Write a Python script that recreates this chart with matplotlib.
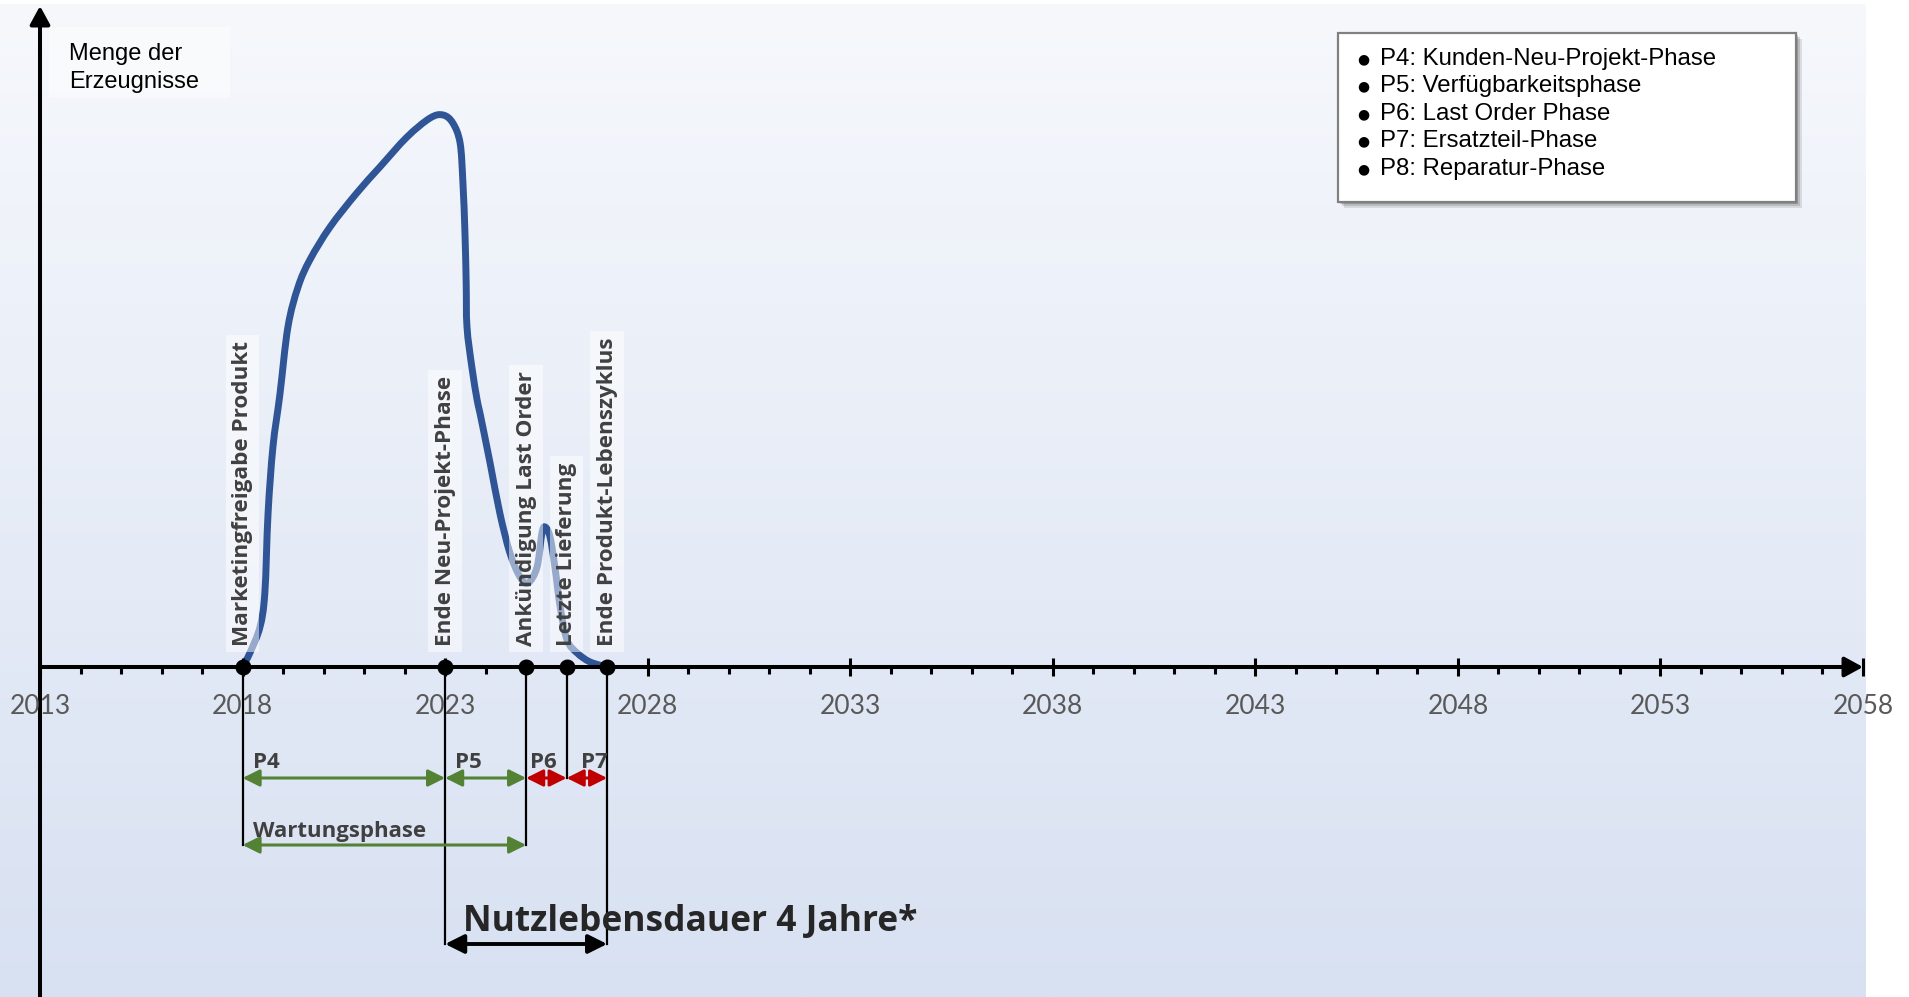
import numpy as np
import matplotlib
matplotlib.use("Agg")
import matplotlib.pyplot as plt
from matplotlib.patches import Rectangle, FancyArrowPatch, PathPatch
from matplotlib.path import Path

# ---------------- data ----------------
curve_years = [2018.0, 2018.18, 2018.43, 2018.55, 2018.63, 2018.75, 2018.92, 2019.12,
               2019.37, 2019.66, 2020.16, 2020.82, 2021.39, 2022.06, 2022.63, 2022.95,
               2023.19, 2023.37, 2023.44, 2023.49, 2023.52, 2023.54, 2023.66, 2023.79,
               2023.86, 2024.11, 2024.35, 2024.60, 2024.85, 2025.05, 2025.27, 2025.39,
               2025.47, 2025.59, 2025.71, 2025.84, 2026.01, 2026.26, 2026.58, 2027.0]
curve_values = [0, 14, 40, 74, 154, 220, 272, 340,
                380, 407, 440, 474, 500, 530, 549, 552,
                544, 524, 484, 434, 384, 340, 300, 267,
                254, 204, 154, 114, 90, 84, 100, 134,
                140, 130, 100, 60, 27, 14, 5, 0]

event_years = [2018, 2023, 2025, 2026, 2027]
event_labels = ["Marketingfreigabe Produkt", "Ende Neu-Projekt-Phase",
                "Ankündigung Last Order", "Letzte Lieferung", "Ende Produkt-Lebenszyklus"]

tick_years = [2013, 2018, 2023, 2028, 2033, 2038, 2043, 2048, 2053, 2058]

phase_names = ["P4", "P5", "P6", "P7"]
phase_start = [2018, 2023, 2025, 2026]
phase_end = [2023, 2025, 2026, 2027]
phase_colors = ["#548235", "#548235", "#c00000", "#c00000"]

wartung_label = "Wartungsphase"
wartung_span = [2018, 2025]
nutz_label = "Nutzlebensdauer 4 Jahre*"
nutz_span = [2023, 2027]

legend_items = ["P4: Kunden-Neu-Projekt-Phase", "P5: Verfügbarkeitsphase",
                "P6: Last Order Phase", "P7: Ersatzteil-Phase", "P8: Reparatur-Phase"]
y_axis_label = "Menge der\nErzeugnisse"

# ---------------- layout helpers (pixel -> data) ----------------
W, H = 1909, 997
PX_PER_YEAR = (1863 - 40) / 45.0


def X(px):
    return 2013 + (px - 40) / PX_PER_YEAR


def Y(py):
    return 667 - py


def DX(px):
    return px / PX_PER_YEAR


fig = plt.figure(figsize=(W / 100, H / 100), dpi=100)
ax = fig.add_axes([0, 0, 1, 1])
ax.set_xlim(X(0), X(W))
ax.set_ylim(Y(H), Y(0))
ax.axis("off")

CAL = "Open Sans"
TICKF = "Lato"
ARIAL = "Liberation Sans"
DARK = "#404040"

# background gradient
top = np.array([0xf6, 0xf8, 0xfc]) / 255
bot = np.array([0xd8, 0xe1, 0xf2]) / 255
t = np.linspace(0, 1, 256)[:, None]
grad = (top[None, :] * (1 - t) + bot[None, :] * t)[:, None, :]
ax.imshow(grad, extent=[X(0), X(1865), Y(H), Y(5)], aspect="auto", zorder=0,
          interpolation="bilinear")

# y-axis label box
ax.add_patch(Rectangle((X(49), Y(98)), DX(181), 71, facecolor="white", alpha=0.45,
                       edgecolor="none", zorder=1))
ax.text(X(69), Y(68), y_axis_label, fontsize=17, family=ARIAL, color="black",
        va="center", ha="left", linespacing=1.38, zorder=2)

# axes lines
ax.add_patch(FancyArrowPatch((2013, Y(H)), (2013, Y(6)), arrowstyle="-|>,head_length=0.55,head_width=0.3",
                             mutation_scale=20, color="black", lw=2.9, shrinkA=0, shrinkB=0, zorder=4))
ax.add_patch(FancyArrowPatch((2013, 0), (2058, 0), arrowstyle="-|>,head_length=0.55,head_width=0.3",
                             mutation_scale=20, color="black", lw=2.9, shrinkA=0, shrinkB=0, zorder=4))
for yr in range(2014, 2058):
    if (yr - 2013) % 5 != 0:
        ax.plot([yr, yr], [0, -7], color="black", lw=2.2, zorder=4, solid_capstyle="butt")
for yr in tick_years:
    ax.plot([yr, yr], [-9, 9], color="black", lw=2.2, zorder=4, solid_capstyle="butt")
    ax.text(yr, Y(706), str(yr), fontsize=19, family=TICKF, color="#595959",
            ha="center", va="center", zorder=4)

# curve: smooth path (Catmull-Rom -> cubic Bezier) through the read points
P = np.column_stack([curve_years, curve_values]).astype(float)
Pe = np.vstack([P[0], P, P[-1]])
verts = [tuple(P[0])]
codes = [Path.MOVETO]
for i in range(1, len(Pe) - 2):
    p0, p1, p2, p3 = Pe[i - 1], Pe[i], Pe[i + 1], Pe[i + 2]
    c1 = p1 + (p2 - p0) / 6.0
    c2 = p2 - (p3 - p1) / 6.0
    verts += [tuple(c1), tuple(c2), tuple(p2)]
    codes += [Path.CURVE4] * 3
ax.add_patch(PathPatch(Path(verts, codes), facecolor="none", edgecolor="#2f5597", lw=5,
                       capstyle="round", joinstyle="round", zorder=3))

# event labels (semi transparent boxes on top of the curve)
for yr, lab in zip(event_years, event_labels):
    ax.text(yr, Y(646), lab, rotation=90, fontsize=16.2, family=CAL, weight="bold",
            color=DARK, ha="center", va="bottom", zorder=5,
            bbox=dict(boxstyle="square,pad=0.28", facecolor="white", edgecolor="none", alpha=0.5))

# arrow levels
lvl_p = Y(778)
lvl_w = Y(845)
lvl_n = Y(944)

# drop lines from events
drop = {yr: 0 for yr in event_years}
spans = [(s, e, lvl_p) for s, e in zip(phase_start, phase_end)]
spans += [(wartung_span[0], wartung_span[1], lvl_w), (nutz_span[0], nutz_span[1], lvl_n)]
for s, e, lv in spans:
    for yr in (s, e):
        drop[yr] = min(drop[yr], lv)
for yr in event_years:
    ax.plot([yr, yr], [0, drop[yr]], color="black", lw=1.6, zorder=4)

# event dots
ax.plot(event_years, [0] * len(event_years), "o", ms=10.5, color="black", zorder=6)


def darrow(x0, x1, y, color, lw=2.2, ms=17):
    ax.add_patch(FancyArrowPatch((x0, y), (x1, y),
                                 arrowstyle="<|-|>,head_length=0.6,head_width=0.3",
                                 mutation_scale=ms, color=color, lw=lw,
                                 shrinkA=0, shrinkB=0, zorder=4))


label_offsets = [10, 10, 4, 14]
for name, s, e, c, off in zip(phase_names, phase_start, phase_end, phase_colors, label_offsets):
    darrow(s, e, lvl_p, c)
    ax.text(s + DX(off), Y(762), name, fontsize=16, family=CAL, weight="bold", color=DARK,
            ha="left", va="center", zorder=5)

darrow(wartung_span[0], wartung_span[1], lvl_w, "#548235")
ax.text(wartung_span[0] + DX(10), Y(831), wartung_label, fontsize=16, family=CAL, weight="bold",
        color=DARK, ha="left", va="center", zorder=5)

darrow(nutz_span[0], nutz_span[1], lvl_n, "black", lw=2.8, ms=19)
ax.text(X(463), Y(922), nutz_label, fontsize=25.5, family=CAL, weight="bold",
        color="#262626", ha="left", va="center", zorder=5)

# legend box with shadow
lx0, ly0, lx1, ly1 = 1338, 33, 1796, 202
for i, a in enumerate([0.10, 0.14, 0.2]):
    d = 6 - 2 * i
    ax.add_patch(Rectangle((X(lx0 + d), Y(ly1 + d)), DX(lx1 - lx0), ly1 - ly0,
                           facecolor="black", alpha=a, edgecolor="none", zorder=6))
ax.add_patch(Rectangle((X(lx0), Y(ly1)), DX(lx1 - lx0), ly1 - ly0, facecolor="white",
                       edgecolor="#808080", lw=1.6, zorder=7))
for i, item in enumerate(legend_items):
    yy = Y(59 + 27.5 * i)
    ax.text(X(1363), yy, "\u25cf", fontsize=10, family="DejaVu Sans", color="black",
            ha="center", va="center", zorder=8)
    ax.text(X(1380), yy, item, fontsize=17.3, family=ARIAL, color="black",
            ha="left", va="center", zorder=8)

fig.savefig("out.png", dpi=100)
